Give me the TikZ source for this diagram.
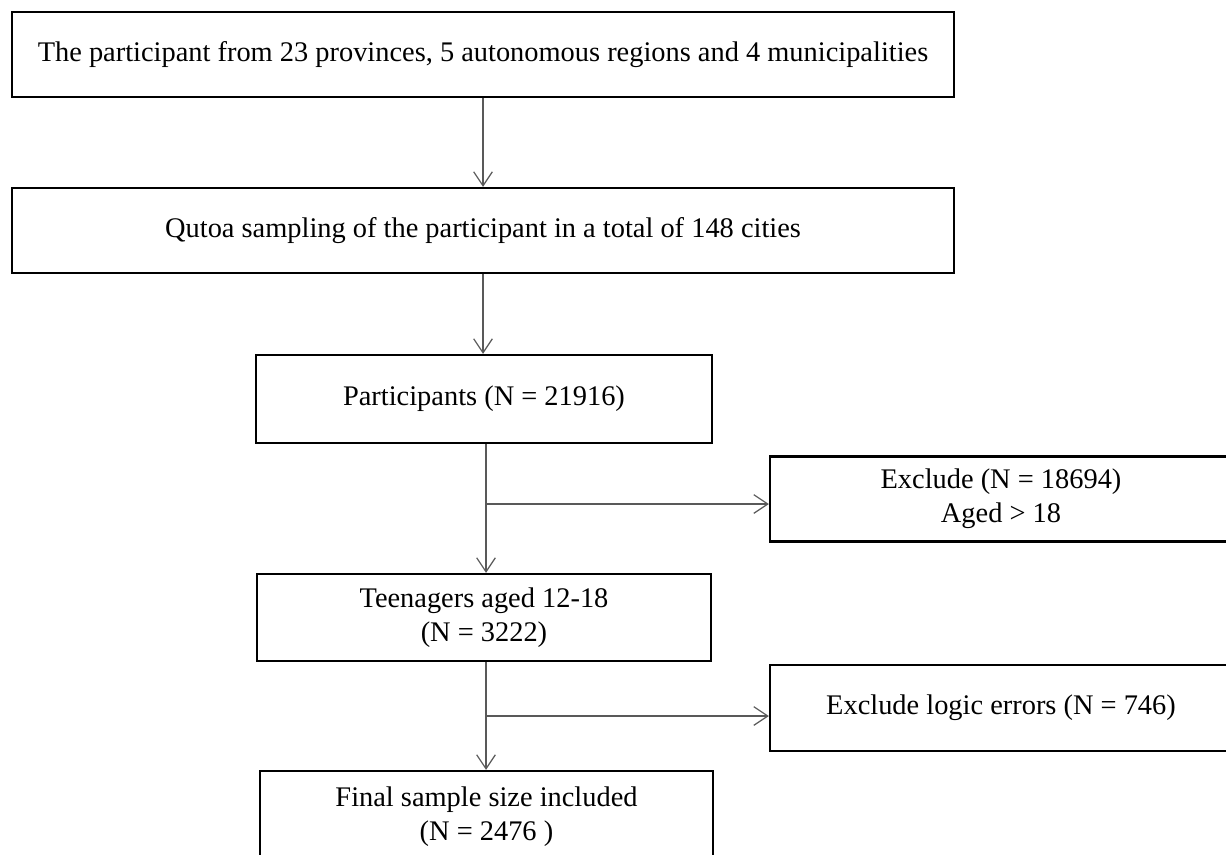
\documentclass[tikz,border=0pt]{standalone}
\usepackage{fontspec}
\setmainfont{Liberation Serif}
\usetikzlibrary{arrows.meta}
\begin{document}
\begin{tikzpicture}[x=0.75pt,y=-0.75pt,
  box/.style={draw, line width=1.7pt, inner sep=0pt, align=center,
    font=\fontsize{21.3}{25.5}\selectfont},
  arr/.style={draw=black!65, line width=0.9pt,
    -{Straight Barb[length=10.5pt,width=14pt,line width=0.9pt]}}]
\clip (0,0) rectangle (1226,855);
\node[box, minimum width=706.5pt, minimum height=63.75pt] (src) at (483,54.5)
  {The participant from 23 provinces, 5 autonomous regions and 4 municipalities};
\node[box, minimum width=706.5pt, minimum height=63.75pt] (quota) at (483,230.5)
  {Qutoa sampling of the participant in a total of 148 cities};
\node[box, minimum width=342pt, minimum height=66pt] (part) at (484,399)
  {Participants (N = 21916)};
\node[box, minimum width=346.5pt, minimum height=63.75pt] (excl1) at (1001,499)
  {Exclude (N = 18694)\\Aged > 18};
\node[box, minimum width=340.5pt, minimum height=65.25pt] (teen) at (484,617.5)
  {Teenagers aged 12-18\\(N = 3222)};
\node[box, minimum width=346.5pt, minimum height=64.5pt] (excl2) at (1001,708)
  {Exclude logic errors (N = 746)};
\node[box, minimum width=339.75pt, minimum height=68.25pt] (final) at (486.5,816.5)
  {Final sample size included\\(N = 2476 )};

\draw[arr] (src) -- (quota);
\draw[arr] (quota.south) -- (quota.south |- part.north);
\draw[arr] (part.south -| 486,0) -- (teen.north -| 486,0);
\draw[arr] (teen.south -| 486,0) -- (final.north -| 486,0);
\coordinate (b1) at (487,504);
\coordinate (b2) at (487,716);
\draw[arr] (b1) -- (b1 -| excl1.west);
\draw[arr] (b2) -- (b2 -| excl2.west);
\end{tikzpicture}
\end{document}
